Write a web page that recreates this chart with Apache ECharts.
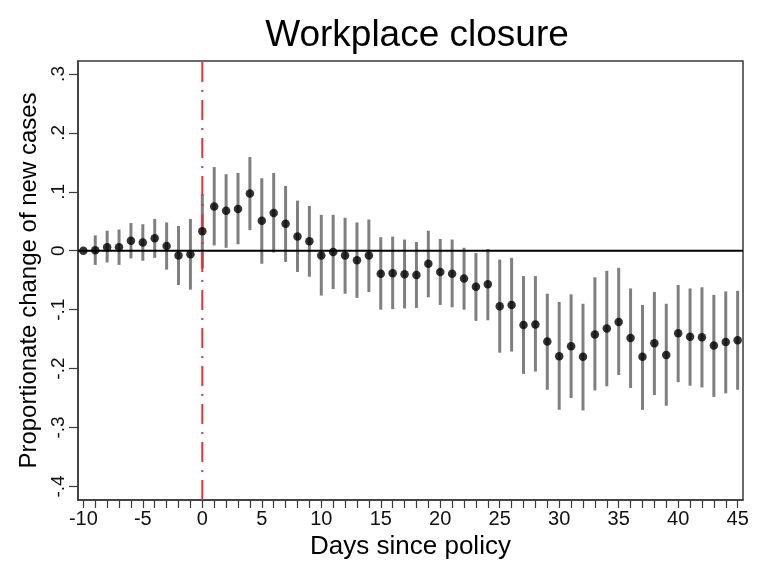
<!DOCTYPE html>
<html>
<head>
<meta charset="utf-8">
<script src="https://cdn.jsdelivr.net/npm/echarts@6/dist/echarts.min.js"></script>
<style>html,body{margin:0;padding:0;background:#fff;}#c{width:777px;height:565px;}</style>
</head>
<body>
<div id="c"></div>
<script>
var days = [-10,-9,-8,-7,-6,-5,-4,-3,-2,-1,0,1,2,3,4,5,6,7,8,9,10,11,12,13,14,15,16,17,18,19,20,21,22,23,24,25,26,27,28,29,30,31,32,33,34,35,36,37,38,39,40,41,42,43,44,45];
var estimate = [0.000,0.001,0.006,0.006,0.017,0.014,0.021,0.008,-0.008,-0.006,0.033,0.075,0.068,0.071,0.097,0.051,0.064,0.046,0.024,0.016,-0.008,-0.002,-0.008,-0.016,-0.008,-0.039,-0.038,-0.040,-0.041,-0.022,-0.036,-0.039,-0.047,-0.061,-0.057,-0.094,-0.092,-0.126,-0.125,-0.154,-0.179,-0.162,-0.180,-0.142,-0.132,-0.121,-0.148,-0.180,-0.157,-0.177,-0.140,-0.146,-0.147,-0.161,-0.155,-0.152];
var ciHigh = [0.000,0.026,0.034,0.036,0.047,0.045,0.054,0.048,0.042,0.054,0.096,0.142,0.130,0.132,0.159,0.123,0.132,0.110,0.085,0.076,0.061,0.061,0.056,0.048,0.053,0.023,0.024,0.019,0.015,0.034,0.020,0.019,0.005,-0.004,0.003,-0.015,-0.012,-0.043,-0.043,-0.073,-0.087,-0.074,-0.090,-0.045,-0.034,-0.029,-0.064,-0.092,-0.070,-0.090,-0.058,-0.064,-0.062,-0.075,-0.069,-0.068];
var ciLow = [0.000,-0.024,-0.020,-0.024,-0.013,-0.017,-0.012,-0.032,-0.058,-0.066,-0.030,0.009,0.005,0.011,0.035,-0.022,-0.003,-0.019,-0.036,-0.044,-0.076,-0.065,-0.073,-0.080,-0.070,-0.100,-0.099,-0.098,-0.097,-0.079,-0.092,-0.096,-0.100,-0.119,-0.118,-0.173,-0.171,-0.209,-0.205,-0.236,-0.270,-0.250,-0.271,-0.237,-0.230,-0.211,-0.233,-0.270,-0.245,-0.263,-0.223,-0.229,-0.232,-0.248,-0.242,-0.236];
var xTickValues = [-10,-9,-8,-7,-6,-5,-4,-3,-2,-1,0,1,2,3,4,5,6,7,8,9,10,11,12,13,14,15,16,17,18,19,20,21,22,23,24,25,26,27,28,29,30,31,32,33,34,35,36,37,38,39,40,41,42,43,44,45];
var xLabelValues = [-10,-5,0,5,10,15,20,25,30,35,40,45];
var yTickValues = [-0.4,-0.3,-0.2,-0.1,0,0.1,0.2,0.3];
var yTickLabels = ['-.4','-.3','-.2','-.1','0','.1','.2','.3'];
var policyDay = 0;

var X_MIN = -10.45, X_MAX = 45.45, Y_MIN = -0.423, Y_MAX = 0.322;
var FONT = '"Liberation Sans", Arial, Helvetica, sans-serif';

var barData = days.map(function (d, i) { return [d, ciLow[i], ciHigh[i]]; });
var pointData = days.map(function (d, i) { return [d, estimate[i]]; });

var chart = echarts.init(document.getElementById('c'), null, {renderer: 'canvas'});
chart.setOption({
  animation: false,
  backgroundColor: '#fff',
  title: {
    text: 'Workplace closure',
    left: 412, top: 12, textAlign: 'center',
    textStyle: {fontFamily: FONT, fontSize: 37, fontWeight: 'normal', color: '#000'}
  },
  grid: {left: 78, right: 34, top: 61, bottom: 62, show: true, borderColor: '#3a3a3a', borderWidth: 1.5, backgroundColor: '#fff'},
  xAxis: {
    type: 'value', min: X_MIN, max: X_MAX,
    name: 'Days since policy', nameLocation: 'middle', nameGap: 34,
    nameTextStyle: {fontFamily: FONT, fontSize: 26, color: '#000'},
    axisLine: {show: true, onZero: false, lineStyle: {color: '#3a3a3a', width: 1.5}},
    axisTick: {show: true, length: 8, customValues: xTickValues, lineStyle: {color: '#3a3a3a', width: 1.2}},
    axisLabel: {customValues: xLabelValues, fontFamily: FONT, fontSize: 20, color: '#111', margin: 9},
    splitLine: {show: false}
  },
  yAxis: {
    type: 'value', min: Y_MIN, max: Y_MAX,
    name: 'Proportionate change of new cases', nameLocation: 'middle', nameGap: 36, nameRotate: 90,
    nameTextStyle: {fontFamily: FONT, fontSize: 24, color: '#000'},
    axisLine: {show: true, onZero: false, lineStyle: {color: '#3a3a3a', width: 1.5}},
    axisTick: {show: true, length: 9, customValues: yTickValues, lineStyle: {color: '#3a3a3a', width: 1.2}},
    axisLabel: {
      customValues: yTickValues, rotate: 90, fontFamily: FONT, fontSize: 19, color: '#111', margin: 10,
      formatter: function (v) {
        for (var i = 0; i < yTickValues.length; i++) { if (Math.abs(yTickValues[i] - v) < 1e-9) return yTickLabels[i]; }
        return '';
      }
    },
    splitLine: {show: false}
  },
  series: [
    {
      type: 'custom', z: 2,
      data: barData,
      renderItem: function (params, api) {
        var p1 = api.coord([api.value(0), api.value(1)]);
        var p2 = api.coord([api.value(0), api.value(2)]);
        return {type: 'line', shape: {x1: p1[0], y1: p1[1], x2: p2[0], y2: p2[1]}, style: {stroke: '#7f7f7f', lineWidth: 3}};
      },
      encode: {x: 0, y: [1, 2]}
    },
    {
      type: 'line', z: 3, symbol: 'none',
      data: [[policyDay, Y_MIN], [policyDay, Y_MAX]],
      lineStyle: {color: '#e0323c', width: 2, type: [20, 8, 2, 8]}
    },
    {
      type: 'line', z: 4, symbol: 'none',
      data: [[X_MIN, 0], [X_MAX, 0]],
      lineStyle: {color: '#000', width: 2}
    },
    {
      type: 'scatter', z: 5,
      data: pointData, symbol: 'circle', symbolSize: 8.5,
      itemStyle: {color: '#000'}
    }
  ]
});
</script>
</body>
</html>
